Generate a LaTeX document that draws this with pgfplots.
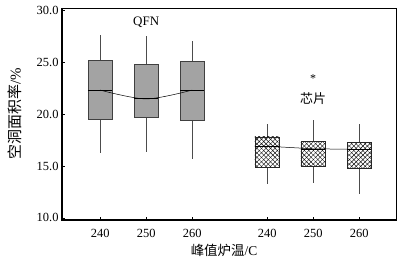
\documentclass[border=0pt]{standalone}
\usepackage{fontspec}
\setmainfont{Liberation Serif}
\newfontfamily\cjk{Noto Sans CJK SC}
\usepackage{pgfplots}
\pgfplotsset{compat=1.18}
\usepgfplotslibrary{statistics}
\usetikzlibrary{patterns.meta}
\tikzset{
  qfnbox/.style={draw=black!75, fill=black!36, line width=0.5pt},
  chipbox/.style={draw=black!85, fill=white, line width=0.5pt,
    postaction={pattern={Lines[angle=45,distance=3.2pt,line width=0.4pt]}},
    postaction={pattern={Lines[angle=-45,distance=3.2pt,line width=0.4pt]}}},
}
\begin{document}
\begin{tikzpicture}
\begin{axis}[
  at={(0,0)}, anchor=south west,
  scale only axis, width=334bp, height=212bp,
  xmin=-0.83, xmax=6.43, ymin=9.8, ymax=30.2,
  xtick={0,1,2,3.63,4.63,5.63},
  xticklabels={240,250,260,240,250,260},
  ytick={10,15,20,25,30},
  yticklabel style={/pgf/number format/.cd, fixed, fixed zerofill, precision=1},
  /pgf/number format/assume math mode=true,
  tick label style={font=\fontsize{12.5}{12.5}\selectfont},
  tick align=inside, tick pos=left,
  major tick length=3pt,
  tick style={black, line width=0.6pt},
  axis line style={line width=0.6pt},
  xticklabel style={yshift=-6pt},
  ylabel={\fontsize{15}{15}\selectfont{\cjk 空洞面积率}/\%},
  xlabel={\fontsize{13.5}{13.5}\selectfont{\cjk 峰值炉温}/C},
  xlabel style={yshift=1pt, xshift=-5pt},
  ylabel style={yshift=8pt},
  boxplot/draw direction=y,
  boxplot/box extend=0.53,
  boxplot/whisker extend=0,
  clip=false,
]
% QFN
\addplot[black!70, line width=0.5pt, boxplot prepared={draw position=0,
  lower whisker=16.25, lower quartile=19.5, median=22.3, upper quartile=25.2, upper whisker=27.6,
  every box/.style={qfnbox}, every median/.style={black, line width=0.7pt}}] coordinates {};
\addplot[black!70, line width=0.5pt, boxplot prepared={draw position=1,
  lower whisker=16.35, lower quartile=19.7, median=21.5, upper quartile=24.8, upper whisker=27.5,
  every box/.style={qfnbox}, every median/.style={black, line width=0.7pt}}] coordinates {};
\addplot[black!70, line width=0.5pt, boxplot prepared={draw position=2,
  lower whisker=15.7, lower quartile=19.4, median=22.3, upper quartile=25.1, upper whisker=27.0,
  every box/.style={qfnbox}, every median/.style={black, line width=0.7pt}}] coordinates {};
% chip
\addplot[black!70, line width=0.5pt, boxplot prepared={draw position=3.63,
  lower whisker=13.3, lower quartile=14.9, median=16.9, upper quartile=17.8, upper whisker=19.05,
  every box/.style={chipbox}, every median/.style={black, line width=0.7pt}}] coordinates {};
\addplot[black!70, line width=0.5pt, boxplot prepared={draw position=4.63,
  lower whisker=13.4, lower quartile=15.0, median=16.6, upper quartile=17.4, upper whisker=19.4,
  every box/.style={chipbox}, every median/.style={black, line width=0.7pt}}] coordinates {};
\addplot[black!70, line width=0.5pt, boxplot prepared={draw position=5.63,
  lower whisker=12.3, lower quartile=14.8, median=16.6, upper quartile=17.3, upper whisker=19.0,
  every box/.style={chipbox}, every median/.style={black, line width=0.7pt}}] coordinates {};
% connecting lines
\addplot[black, line width=0.5pt, smooth, no marks] coordinates {(0,22.3) (1,21.45) (2,22.3)};
\addplot[black, line width=0.5pt, no marks] coordinates {(3.63,16.9) (4.63,16.65) (5.63,16.6)};
% thicker left and bottom axis lines
\draw[black, line width=1.3pt] (rel axis cs:0,1) -- (rel axis cs:0,0) -- (rel axis cs:1,0);
\node[font=\fontsize{13}{13}\selectfont] at (axis cs:1,28.85) {QFN};
\node[font=\fontsize{12}{12}\selectfont] at (axis cs:4.63,23.4) {*};
\node[font=\cjk\fontsize{13}{13}\selectfont] at (axis cs:4.63,21.44) {芯片};
\end{axis}
\pgfresetboundingbox
\useasboundingbox (-62bp,-41bp) rectangle (338bp,220bp);
\end{tikzpicture}
\end{document}
